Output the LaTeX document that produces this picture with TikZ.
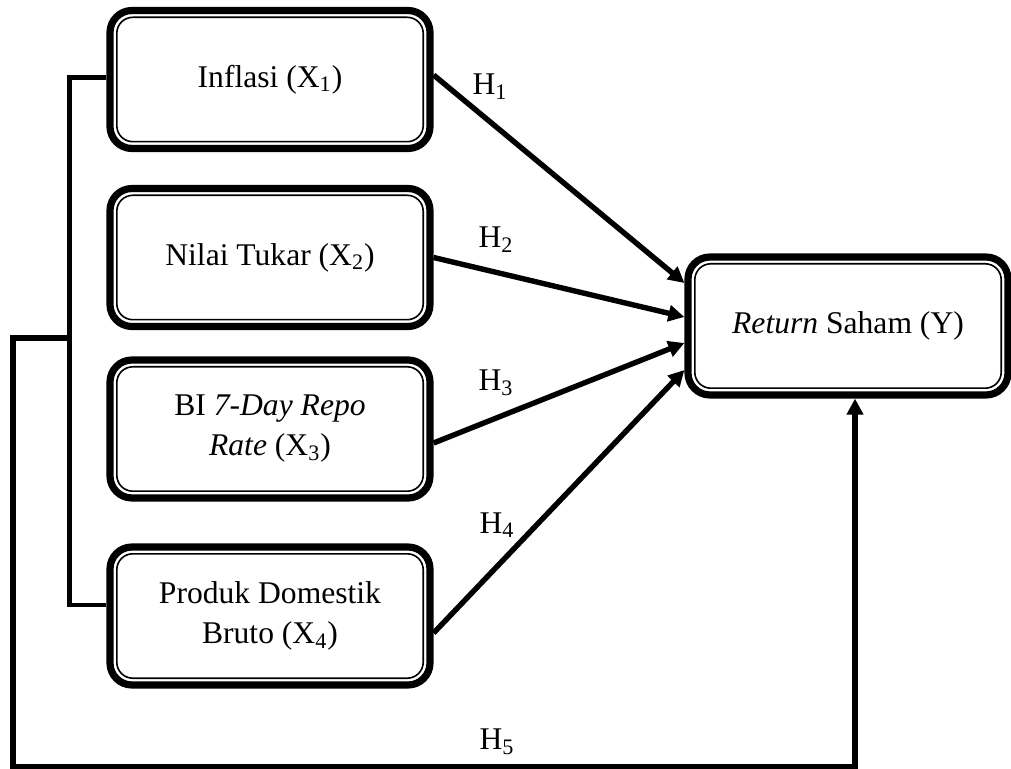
\documentclass[tikz,border=0pt]{standalone}
\usepackage{fontspec}
\setmainfont{Liberation Serif}
\usepackage{tikz}
\usetikzlibrary{positioning, arrows.meta, calc}

\tikzset{
  varbox/.style={draw, line width=3.6pt, rounded corners=11pt,
    minimum width=160pt, minimum height=69pt, align=center,
    font=\fontsize{15.8}{20}\selectfont},
  innerline/.style={line width=0.8pt, rounded corners=8pt},
  link/.style={line width=2.4pt},
  arr/.style={link, line width=2.7pt, -{Triangle[length=8pt,width=8pt]}},
  hlabel/.style={font=\fontsize{15.8}{20}\selectfont},
}

\begin{document}
\begin{tikzpicture}[x=0.5pt, y=-0.5pt]
  \useasboundingbox (0,0) rectangle (1011,769);

  % variables
  \node[varbox] (x1) at (270,79.5) {Inflasi (X\textsubscript{1})};
  \node[varbox] (x2) at (270,257.5) {Nilai Tukar (X\textsubscript{2})};
  \node[varbox] (x3) at (270,429) {BI \textit{7-Day Repo}\\\textit{Rate} (X\textsubscript{3})};
  \node[varbox] (x4) at (270,616) {Produk Domestik\\Bruto (X\textsubscript{4})};
  \node[varbox] (y) at (848,326) {\textit{Return} Saham (Y)};

  % inner border of each box
  \foreach \n in {x1,x2,x3,x4,y}
    \draw[innerline] ([shift={(5.2pt,-5.2pt)}]\n.north west) rectangle ([shift={(-5.2pt,5.2pt)}]\n.south east);

  % hypotheses
  \draw[arr] ([yshift=2.25pt]x1.east) -- ([yshift=21.5pt]y.west);
  \draw[arr] (x2.east) -- ([yshift=4.5pt]y.west);
  \draw[arr] ([yshift=-7pt]x3.east) -- ([yshift=-8.5pt]y.west);
  \draw[arr] ([yshift=-8.5pt]x4.east) -- ([yshift=-22pt]y.west);

  \node[hlabel] (h1) at (490,87) {H\textsubscript{1}};
  \node[hlabel] (h2) at (496,240) {H\textsubscript{2}};
  \node[hlabel] (h3) at (496,383) {H\textsubscript{3}};
  \node[hlabel] (h4) at (497,525) {H\textsubscript{4}};
  \node[hlabel] (h5) at (497,742) {H\textsubscript{5}};

  % simultaneous path
  \draw[link] ([yshift=1pt]x1.west) -- ++(-37,0) |- ([yshift=5.5pt]x4.west);
  \coordinate (junc) at (70,338);
  \draw[arr] (junc) -| (13,767) -| ([xshift=3.5pt]y.south);
\end{tikzpicture}
\end{document}
